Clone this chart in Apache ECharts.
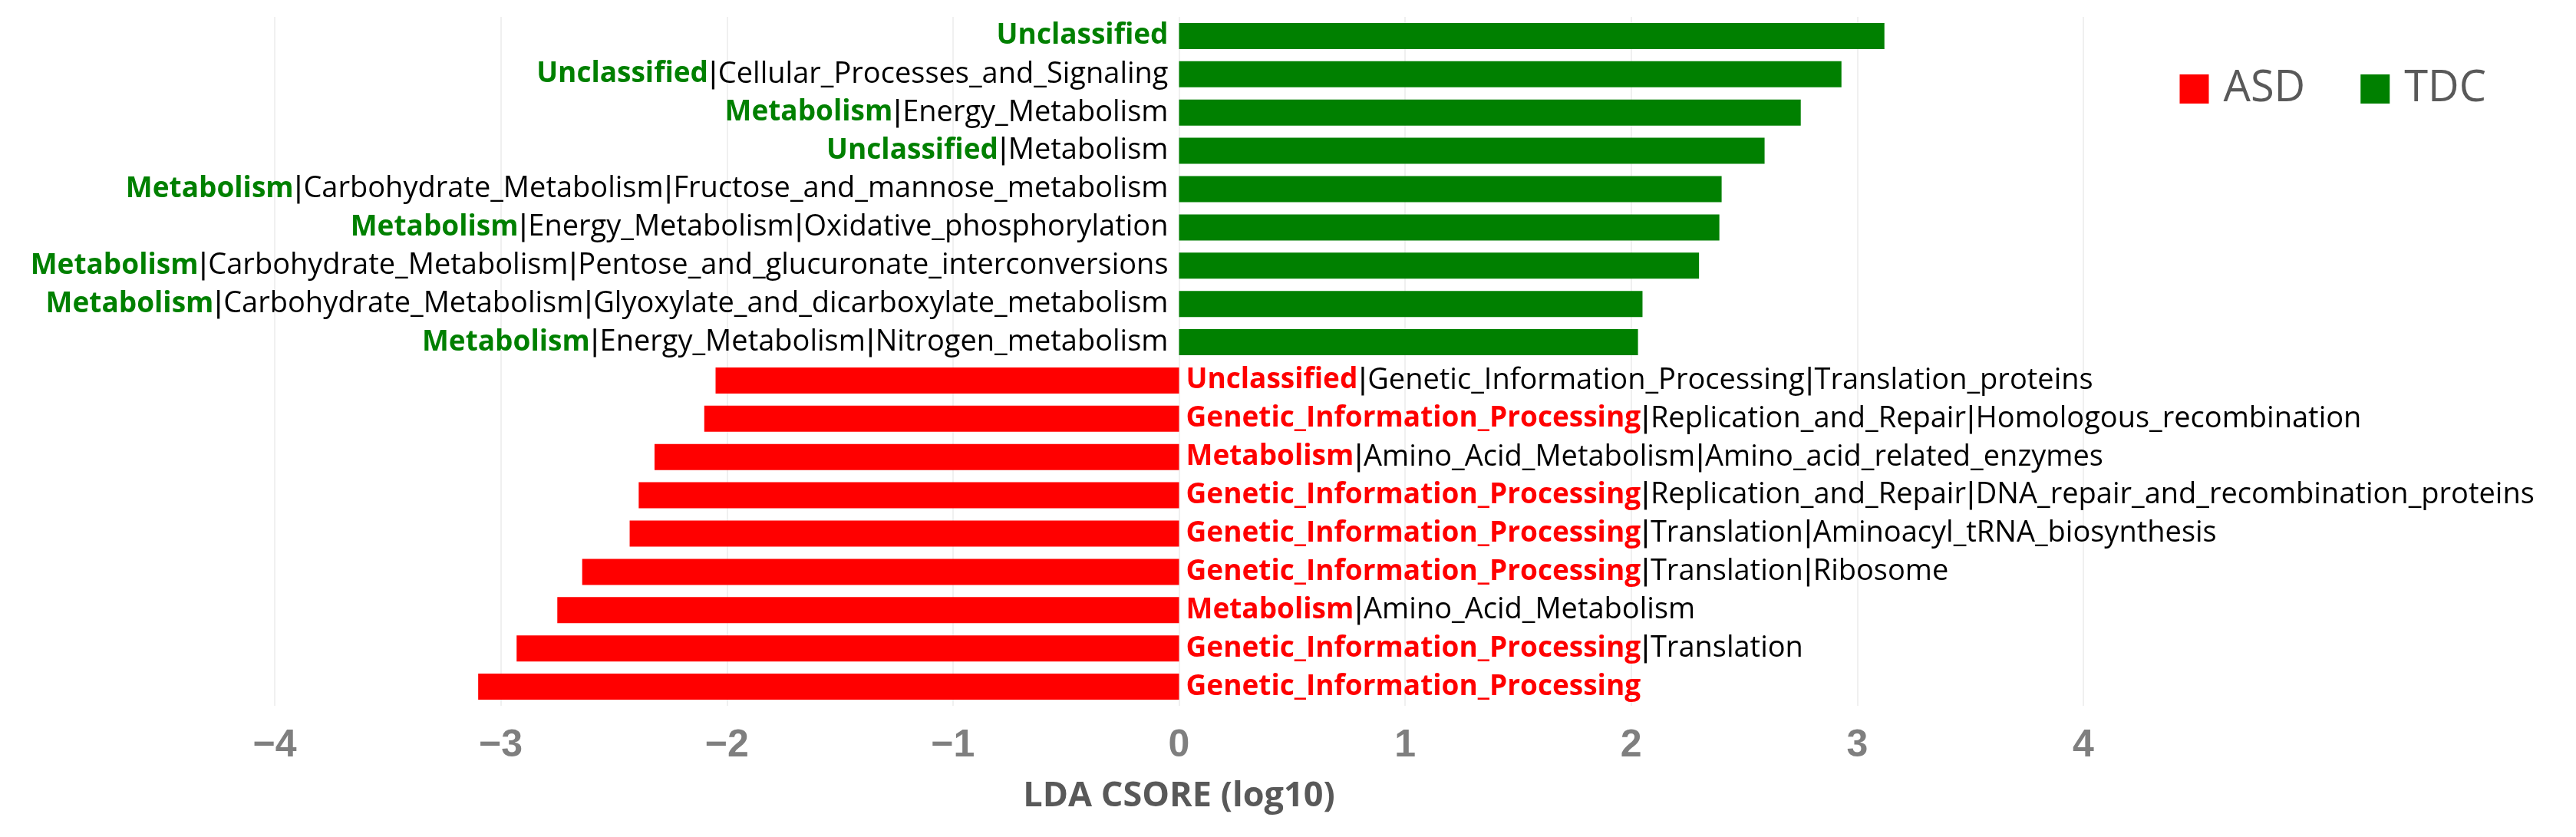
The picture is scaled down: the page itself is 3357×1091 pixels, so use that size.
<!DOCTYPE html>
<html>
<head>
<meta charset="utf-8">
<script src="https://cdn.jsdelivr.net/npm/echarts@6/dist/echarts.min.js"></script>
<style>html,body{margin:0;padding:0;background:#fff;}#c{width:3357px;height:1091px;}</style>
</head>
<body>
<div id="c"></div>
<script>
// Categories listed top to bottom
var categories = [
  "Unclassified",
  "Unclassified|Cellular_Processes_and_Signaling",
  "Metabolism|Energy_Metabolism",
  "Unclassified|Metabolism",
  "Metabolism|Carbohydrate_Metabolism|Fructose_and_mannose_metabolism",
  "Metabolism|Energy_Metabolism|Oxidative_phosphorylation",
  "Metabolism|Carbohydrate_Metabolism|Pentose_and_glucuronate_interconversions",
  "Metabolism|Carbohydrate_Metabolism|Glyoxylate_and_dicarboxylate_metabolism",
  "Metabolism|Energy_Metabolism|Nitrogen_metabolism",
  "Unclassified|Genetic_Information_Processing|Translation_proteins",
  "Genetic_Information_Processing|Replication_and_Repair|Homologous_recombination",
  "Metabolism|Amino_Acid_Metabolism|Amino_acid_related_enzymes",
  "Genetic_Information_Processing|Replication_and_Repair|DNA_repair_and_recombination_proteins",
  "Genetic_Information_Processing|Translation|Aminoacyl_tRNA_biosynthesis",
  "Genetic_Information_Processing|Translation|Ribosome",
  "Metabolism|Amino_Acid_Metabolism",
  "Genetic_Information_Processing|Translation",
  "Genetic_Information_Processing"
];
var tdcValues = [3.12, 2.93, 2.75, 2.59, 2.40, 2.39, 2.30, 2.05, 2.03, '-', '-', '-', '-', '-', '-', '-', '-', '-'];
var asdValues = ['-', '-', '-', '-', '-', '-', '-', '-', '-', -2.05, -2.10, -2.32, -2.39, -2.43, -2.64, -2.75, -2.93, -3.10];
var xTicks = [-4, -3, -2, -1, 0, 1, 2, 3, 4];
var legendNames = ['ASD', 'TDC'];

var LABEL_FONT = 'Open Sans';
function fmt(p) {
  var parts = p.name.split('|');
  var s = '{h|' + parts[0] + '}';
  for (var k = 1; k < parts.length; k++) {
    s += '{p||}{t|' + parts[k] + '}';
  }
  return s;
}
function richFor(color) {
  return {
    h: {color: color, fontWeight: 'bold', fontSize: 37, fontFamily: LABEL_FONT},
    t: {color: '#000', fontWeight: 'normal', fontSize: 38, fontFamily: LABEL_FONT},
    p: {color: '#000', fontWeight: 'normal', fontSize: 38, fontFamily: 'DejaVu Sans'}
  };
}

var chart = echarts.init(document.getElementById('c'));
chart.setOption({
  animation: false,
  backgroundColor: '#fff',
  grid: {left: 358, right: 642, top: 22, bottom: 171, containLabel: false},
  legend: {
    data: legendNames,
    right: 117, top: 88, padding: 0,
    itemWidth: 38, itemHeight: 38, itemGap: 72,
    icon: 'rect',
    textStyle: {fontSize: 56, color: '#595959', fontFamily: LABEL_FONT, padding: [0, 0, 0, 14]}
  },
  xAxis: {
    type: 'value', min: xTicks[0], max: xTicks[xTicks.length - 1], interval: 1,
    name: 'LDA CSORE (log10)', nameLocation: 'middle', nameGap: 96,
    nameTextStyle: {fontSize: 45, fontWeight: 'bold', color: '#595959', fontFamily: 'Open Sans'},
    axisLine: {show: false}, axisTick: {show: false},
    axisLabel: {
      fontSize: 50, fontWeight: 'bold', color: '#7f7f7f', fontFamily: 'Liberation Sans', margin: 27,
      formatter: function (v) { return v < 0 ? '\u2212' + Math.abs(v) : String(v); }
    },
    splitLine: {show: true, lineStyle: {color: '#f0f0f0', width: 2}}
  },
  yAxis: {
    type: 'category', data: categories, inverse: true,
    axisLine: {show: false}, axisTick: {show: false}, axisLabel: {show: false},
    splitLine: {show: false}
  },
  series: [
    {
      name: 'ASD', type: 'bar', stack: 'all', data: asdValues,
      barWidth: 34,
      itemStyle: {color: '#ff0000'},
      label: {show: true, position: 'right', distance: 9, formatter: fmt, rich: richFor('#ff0000')}
    },
    {
      name: 'TDC', type: 'bar', stack: 'all', data: tdcValues,
      barWidth: 34,
      itemStyle: {color: '#008000'},
      label: {show: true, position: 'left', distance: 14, formatter: fmt, rich: richFor('#008000')}
    }
  ]
});
</script>
</body>
</html>
